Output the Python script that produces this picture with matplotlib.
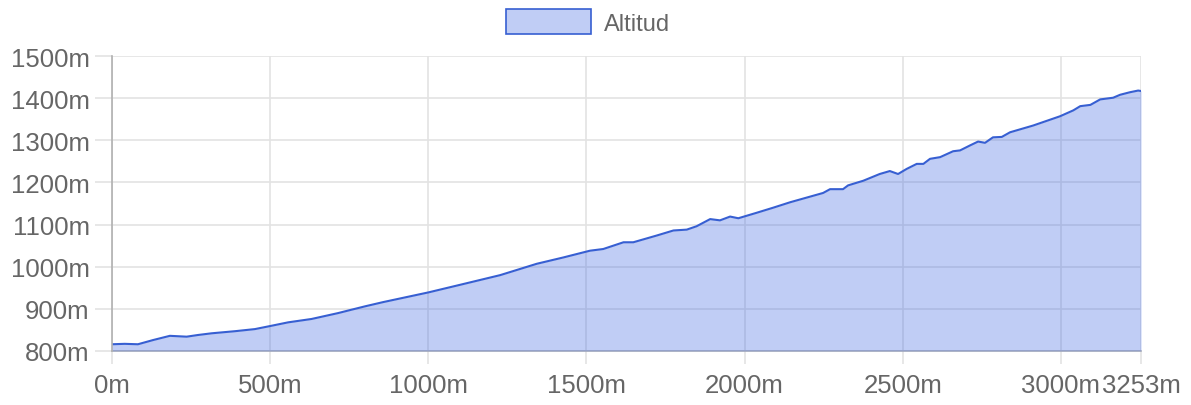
import matplotlib
matplotlib.use("Agg")
import matplotlib.pyplot as plt
from matplotlib.patches import Patch

distance_m = [0, 40, 82, 130, 183, 236, 272, 315, 389, 452, 505, 557, 631, 715, 752, 800,
              857, 1000, 1100, 1227, 1343, 1427, 1511, 1553, 1617, 1648, 1722, 1775, 1817,
              1848, 1891, 1922, 1954, 1980, 2038, 2090, 2144, 2248, 2270, 2311, 2327, 2375,
              2427, 2459, 2485, 2512, 2544, 2565, 2586, 2618, 2659, 2681, 2713, 2738, 2760,
              2785, 2813, 2839, 2912, 2997, 3039, 3061, 3093, 3124, 3165, 3187, 3218, 3244, 3253]
altitude_m = [816, 817, 816, 826, 836, 834, 838, 842, 847, 852, 860, 868, 876, 890, 897, 906,
              916, 939, 957, 980, 1007, 1022, 1038, 1042, 1058, 1058, 1074, 1086, 1088,
              1096, 1113, 1110, 1119, 1115, 1128, 1140, 1153, 1175, 1184, 1184, 1193, 1204,
              1220, 1227, 1220, 1232, 1244, 1244, 1256, 1260, 1274, 1276, 1288, 1297, 1294,
              1307, 1308, 1319, 1335, 1357, 1371, 1381, 1384, 1397, 1401, 1408, 1414, 1418, 1417]
x_ticks = [0, 500, 1000, 1500, 2000, 2500, 3000, 3253]
y_ticks = [800, 900, 1000, 1100, 1200, 1300, 1400, 1500]
series_label = "Altitud"

plt.rcParams['font.family'] = ['Liberation Sans', 'DejaVu Sans']

line_color = (55/255, 95/255, 210/255)
fill_color = (65/255, 105/255, 225/255, 0.33)
grid_color = "#e3e3e3"
text_color = "#666666"

fig = plt.figure(figsize=(11.91, 4.06), dpi=100)
ax = fig.add_axes([112/1191, 1-352/406, (1141-112)/1191, (352-57)/406])

ax.fill_between(distance_m, altitude_m, 800, color=fill_color, linewidth=0, zorder=3)
ax.plot(distance_m, altitude_m, color=line_color, linewidth=1.5, zorder=4)

ax.set_xlim(0, 3253)
ax.set_ylim(800, 1500)
ax.set_xticks(x_ticks)
ax.set_xticklabels([f"{v}m" for v in x_ticks])
ax.set_yticks(y_ticks)
ax.set_yticklabels([f"{v}m" for v in y_ticks])

ax.grid(True, color=grid_color, linewidth=1.2, zorder=1)
ax.set_axisbelow(True)
for s in ["top", "right"]:
    ax.spines[s].set_visible(False)
ax.spines["left"].set_color("#b0b0b0")
ax.spines["bottom"].set_color("#b8b8b8")
ax.spines["left"].set_linewidth(1.2)
ax.spines["bottom"].set_linewidth(1.2)
ax.spines["left"].set_zorder(5)

ax.tick_params(axis="y", length=12, width=1.2, color=grid_color, pad=4,
               labelsize=18.5, labelcolor=text_color)
ax.tick_params(axis="x", length=9.5, width=1.2, color=grid_color, pad=6,
               labelsize=18.5, labelcolor=text_color)

handle = Patch(facecolor=fill_color, edgecolor=line_color, linewidth=1.2)
fig.legend([handle], [series_label], loc="center", bbox_to_anchor=(588.5/1191, 1-23/406),
           frameon=False, fontsize=17, labelcolor=text_color,
           handlelength=3.6, handleheight=1.2, handletextpad=0.55)

fig.savefig("out.png", dpi=100)
